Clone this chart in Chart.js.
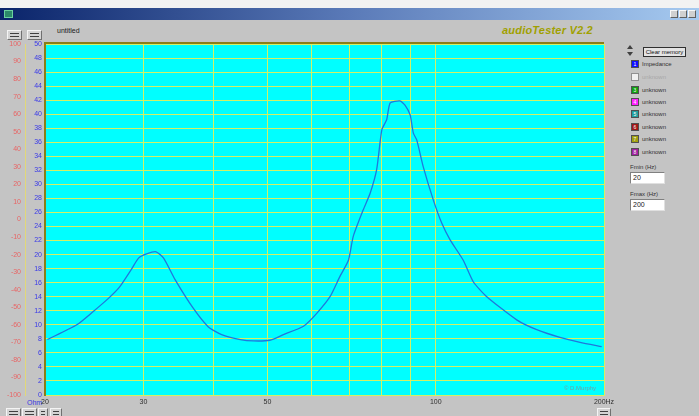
<!DOCTYPE html>
<html>
<head>
<meta charset="utf-8">
<script src="https://cdn.jsdelivr.net/npm/chart.js@4/dist/chart.umd.min.js"></script>
<style>
html,body{margin:0;padding:0;}
body{width:699px;height:416px;position:relative;overflow:hidden;background:#c4c4c4;font-family:"Liberation Sans",Arial,sans-serif;}
.abs{position:absolute;}
#topwhite{left:0;top:0;width:699px;height:8px;background:#f2f2f2;}
#titlebar{left:0;top:8px;width:699px;height:12px;background:linear-gradient(to right,#0a246a,#5a7ab8 50%,#a6caf0);}
#ticon{left:4px;top:10px;width:9px;height:8px;background:#2c8a6a;border:1px solid #6ad0a0;box-sizing:border-box;}
.wbtn{top:10px;width:8px;height:8px;background:#d0d0d0;border:1px solid #f8f8f8;border-right-color:#606060;border-bottom-color:#606060;box-sizing:border-box;}
.sbtn{width:15px;height:10px;background:#d4d4d4;border:1px solid #f4f4f4;border-right-color:#707070;border-bottom-color:#707070;box-sizing:border-box;}
.sbtn::before,.sbtn::after{content:"";position:absolute;left:2px;right:2px;height:1px;background:#404040;}
.sbtn::before{top:2px;}
.sbtn::after{top:5px;}
.small{font-size:7px;color:#202020;white-space:nowrap;line-height:8px;}
#brand{left:502px;top:24px;font-size:11px;font-weight:bold;font-style:italic;color:#a0a000;white-space:nowrap;letter-spacing:0.2px;}
#clearbtn{left:643px;top:47px;width:43px;height:10px;border:1px solid #303030;background:#e4e4e4;box-sizing:border-box;font-size:6px;line-height:8px;text-align:center;color:#101010;white-space:nowrap;overflow:hidden;}
.sq{left:631px;width:8px;height:8px;border:1px solid #505050;box-sizing:border-box;font-size:5px;line-height:6px;color:#fff;text-align:center;}
.lg{left:642px;font-size:6px;color:#303030;white-space:nowrap;line-height:8px;}
.inp{left:630px;width:35px;height:12px;background:#fff;border:1px solid #808080;border-right-color:#e0e0e0;border-bottom-color:#e0e0e0;box-sizing:border-box;font-size:7px;line-height:10px;padding-left:2px;color:#202020;}
#wm{left:564px;top:385px;font-size:6px;color:#6f9ea6;white-space:nowrap;z-index:5;}
#c{position:absolute;left:0;top:0;z-index:2;}
</style>
</head>
<body>
<div id="topwhite" class="abs"></div>
<div id="titlebar" class="abs"></div>
<div id="ticon" class="abs"></div>
<div class="abs wbtn" style="left:670px"></div>
<div class="abs wbtn" style="left:679px"></div>
<div class="abs wbtn" style="left:688px"></div>

<div class="abs sbtn" style="left:7px;top:30px"></div>
<div class="abs sbtn" style="left:27px;top:30px"></div>
<div class="abs small" style="left:57px;top:27px">untitled</div>
<div id="brand" class="abs">audioTester V2.2</div>

<div class="abs" style="left:627px;top:45px;width:0;height:0;border-left:3px solid transparent;border-right:3px solid transparent;border-bottom:4px solid #404040"></div>
<div class="abs" style="left:627px;top:52px;width:0;height:0;border-left:3px solid transparent;border-right:3px solid transparent;border-top:4px solid #404040"></div>
<div id="clearbtn" class="abs">Clear memory</div>

<div class="abs sq" style="top:60px;background:#1010ff">1</div><div class="abs lg" style="top:60px">Impedance</div>
<div class="abs sq" style="top:73px;background:#f0f0f0;border-color:#909090"></div><div class="abs lg" style="top:73px;color:#a8a8a8">unknown</div>
<div class="abs sq" style="top:86px;background:#10a010">3</div><div class="abs lg" style="top:86px">unknown</div>
<div class="abs sq" style="top:98px;background:#ff20ff">4</div><div class="abs lg" style="top:98px">unknown</div>
<div class="abs sq" style="top:110px;background:#20a0a0">5</div><div class="abs lg" style="top:110px">unknown</div>
<div class="abs sq" style="top:123px;background:#a01818">6</div><div class="abs lg" style="top:123px">unknown</div>
<div class="abs sq" style="top:135px;background:#a0a010">7</div><div class="abs lg" style="top:135px">unknown</div>
<div class="abs sq" style="top:148px;background:#a020a0">8</div><div class="abs lg" style="top:148px">unknown</div>

<div class="abs lg" style="left:630px;top:163px">Fmin (Hz)</div>
<div class="abs inp" style="top:172px">20</div>
<div class="abs lg" style="left:630px;top:190px">Fmax (Hz)</div>
<div class="abs inp" style="top:199px">200</div>

<div class="abs small" style="left:27px;top:399px;color:#3838e0">Ohm</div>
<div class="abs sbtn" style="left:6px;top:408px"></div>
<div class="abs sbtn" style="left:22px;top:408px"></div>
<div class="abs sbtn" style="left:38px;top:408px;width:10px"></div>
<div class="abs sbtn" style="left:50px;top:408px;width:12px"></div>
<div class="abs sbtn" style="left:597px;top:408px;width:14px"></div>
<div id="wm" class="abs">© D.Murphy</div>

<canvas id="c" width="699" height="416"></canvas>

<script>
// ---- data ----
const freqHz = [20.2, 22.8, 24.4, 26.0, 27.2, 28.6, 29.4, 30.4, 31.6, 32.6, 34.2, 36.8, 39.2, 41.4, 44.7, 47.2, 50.5, 53.4, 58.0, 61.2, 64.7, 67.4, 69.8, 71.2, 74.2, 76.3, 78.4, 80.1, 81.7, 82.9, 86.3, 88.1, 90.0, 91.2, 92.5, 95.0, 99.0, 102.5, 106.1, 112.0, 116.8, 123.4, 139.6, 151.6, 166.8, 181.2, 198.1];
const impedanceOhm = [7.9, 10.0, 11.9, 13.8, 15.4, 18.0, 19.5, 20.1, 20.4, 19.5, 16.4, 12.4, 9.7, 8.6, 7.9, 7.7, 7.8, 8.6, 9.8, 11.6, 14.0, 16.9, 19.2, 22.6, 26.4, 28.7, 32.1, 37.8, 39.2, 41.6, 41.9, 41.3, 39.9, 37.3, 36.3, 32.5, 27.8, 24.5, 22.1, 19.2, 16.1, 14.0, 10.7, 9.3, 8.2, 7.5, 6.9];
const freqTickValues = [20, 30, 40, 50, 60, 70, 80, 90, 100, 200];
const freqTickLabels = ['20', '30', '', '50', '', '', '', '', '100', '200Hz'];
const ohmRange = [0, 50];
const ohmStep = 2;
const phaseRange = [-100, 100];
const phaseStep = 10;

const FONT = '"Liberation Sans", Arial, sans-serif';
const GRID = '#d4f064';

const points = freqHz.map((f, i) => ({x: f, y: impedanceOhm[i]}));

const plotDecor = {
  id: 'plotDecor',
  beforeDraw(chart) {
    const {ctx, chartArea: a} = chart;
    ctx.save();
    ctx.fillStyle = '#00ffff';
    ctx.fillRect(a.left, a.top, a.right - a.left, a.bottom - a.top);
    ctx.restore();
  },
  afterDraw(chart) {
    const {ctx, chartArea: a} = chart;
    ctx.save();
    ctx.strokeStyle = '#8a7e18';
    ctx.lineWidth = 2;
    ctx.beginPath();
    ctx.moveTo(a.left - 1, a.top - 1);
    ctx.lineTo(a.right, a.top - 1);
    ctx.stroke();
    ctx.restore();
  }
};

new Chart(document.getElementById('c'), {
  type: 'line',
  data: {
    datasets: [{
      label: 'Impedance',
      data: points,
      xAxisID: 'x',
      yAxisID: 'y',
      borderColor: '#1f78dc',
      borderWidth: 1.3,
      pointRadius: 0,
      fill: false,
      tension: 0.2
    }]
  },
  options: {
    responsive: false,
    animation: false,
    devicePixelRatio: 1,
    events: [],
    layout: {padding: {left: 0, top: 44, right: 95, bottom: 0}},
    plugins: {legend: {display: false}, tooltip: {enabled: false}},
    scales: {
      x: {
        type: 'logarithmic',
        position: 'bottom',
        min: 20,
        max: 200,
        afterBuildTicks: s => { s.ticks = freqTickValues.map(v => ({value: v, major: false})); },
        afterFit: s => { s.height = 21; },
        ticks: {
          autoSkip: false, maxRotation: 0, minRotation: 0, padding: 3,
          color: '#303030', font: {size: 7, family: FONT},
          major: {enabled: false},
          callback: (v, i) => freqTickLabels[i]
        },
        grid: {color: () => GRID, lineWidth: () => 1, drawTicks: false},
        border: {display: true, color: GRID, width: 1}
      },
      y: {
        type: 'linear',
        position: 'left',
        weight: 0,
        min: ohmRange[0],
        max: ohmRange[1],
        afterFit: s => { s.width = 20; },
        ticks: {
          stepSize: ohmStep, autoSkip: false, padding: 3,
          color: '#3838e8', font: {size: 7, family: FONT}
        },
        grid: {color: GRID, lineWidth: 1, drawTicks: false},
        border: {display: true, color: '#8a7e18', width: 2}
      },
      phase: {
        type: 'linear',
        position: 'left',
        weight: 10,
        min: phaseRange[0],
        max: phaseRange[1],
        afterFit: s => { s.width = 25; },
        ticks: {
          stepSize: phaseStep, autoSkip: false, padding: 4,
          color: '#e86464', font: {size: 7, family: FONT}
        },
        grid: {drawOnChartArea: false, drawTicks: false, color: 'rgba(0,0,0,0)'},
        border: {display: true, color: '#e2d878', width: 1}
      }
    }
  },
  plugins: [plotDecor]
});
</script>
</body>
</html>
